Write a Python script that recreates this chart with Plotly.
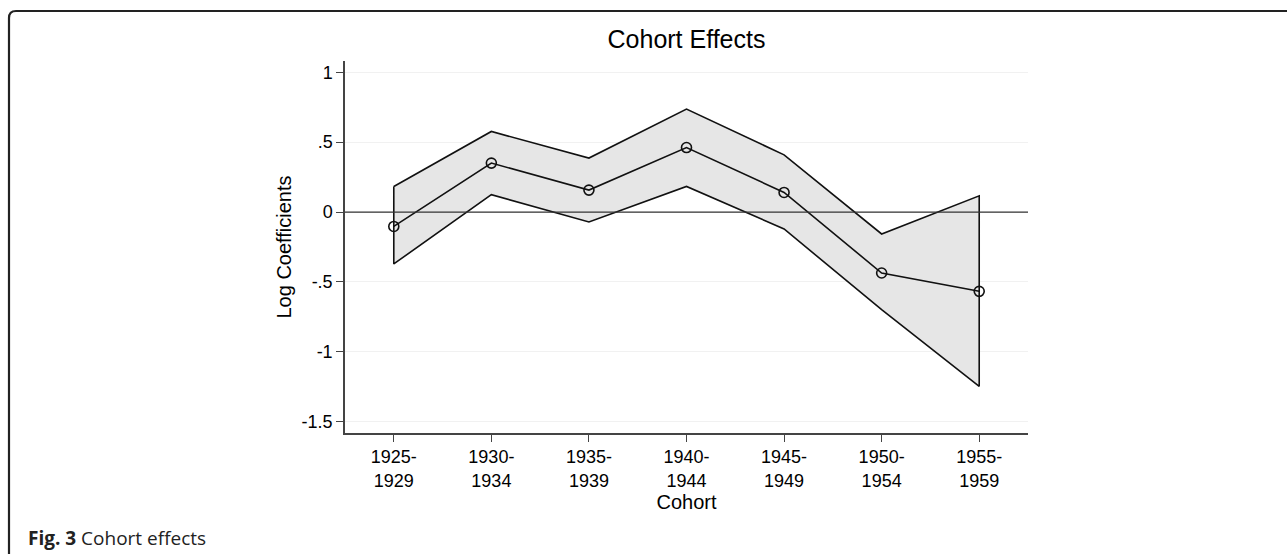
import plotly.graph_objects as go

# cohort groups and estimated log coefficients with CI bounds
cohorts = ["1925-<br>1929", "1930-<br>1934", "1935-<br>1939", "1940-<br>1944",
           "1945-<br>1949", "1950-<br>1954", "1955-<br>1959"]
coef = [-0.103, 0.350, 0.157, 0.461, 0.140, -0.436, -0.567]
upper = [0.183, 0.576, 0.386, 0.736, 0.409, -0.157, 0.116]
lower = [-0.371, 0.124, -0.071, 0.183, -0.121, -0.698, -1.246]
ytickvals = [1, 0.5, 0, -0.5, -1, -1.5]
yticktext = ["1", ".5", "0", "-.5", "-1", "-1.5"]

W, H = 1287, 554
L, R, T, B = 345, 1028, 61, 433   # plot area in pixels
FONT = "Liberation Sans, Arial, Helvetica, sans-serif"

def px(x):
    return (x - L) / (R - L)

def py(y):
    return (B - y) / (B - T)

idx = list(range(len(cohorts)))

fig = go.Figure()

# CI band as a closed polygon with an outline
bx = idx + idx[::-1] + [idx[0]]
by = upper + lower[::-1] + [upper[0]]
fig.add_trace(go.Scatter(x=bx, y=by, mode="lines", fill="toself",
                         fillcolor="#e6e6e6", line=dict(color="#111111", width=1.6),
                         hoverinfo="skip", showlegend=False))

fig.add_trace(go.Scatter(x=idx, y=coef, mode="lines+markers",
                         line=dict(color="#111111", width=1.6),
                         marker=dict(symbol="circle-open", size=10, color="#111111",
                                     line=dict(width=1.6)),
                         showlegend=False))

# zero reference line drawn above the band
fig.add_shape(type="line", xref="paper", x0=0, x1=1, yref="y", y0=0, y1=0,
              line=dict(color="#333333", width=1.2), layer="above")

# rounded frame around the whole figure
r = 7
path = (f"M {px(9)} {py(600)} L {px(9)} {py(11 + r)} "
        f"Q {px(9)} {py(11)} {px(9 + r)} {py(11)} L {px(1320)} {py(11)}")
fig.add_shape(type="path", xref="paper", yref="paper", path=path,
              line=dict(color="#222222", width=2.2))

fig.add_annotation(text="<b>Fig. 3</b> Cohort effects", xref="paper", yref="paper",
                   x=px(26), y=py(538), xanchor="left", yanchor="middle",
                   showarrow=False, font=dict(family="Open Sans, sans-serif", size=19, color="#222222"))

fig.update_xaxes(range=[-0.5, 6.5], tickmode="array", tickvals=idx, ticktext=cohorts,
                 showgrid=False, zeroline=False, showline=True, linecolor="#444444", linewidth=1.5,
                 ticks="outside", ticklen=7, tickcolor="#444444", tickwidth=1.3,
                 tickfont=dict(family=FONT, size=18, color="#000000"),
                 title=dict(text="Cohort", font=dict(family=FONT, size=20, color="#000000"), standoff=4),
                 automargin=False, fixedrange=True)
fig.update_yaxes(range=[-1.58, 1.08], tickmode="array", tickvals=ytickvals, ticktext=yticktext,
                 showgrid=True, gridcolor="#f1f1f1", gridwidth=1, zeroline=False,
                 showline=True, linecolor="#444444", linewidth=1.5,
                 ticks="outside", ticklen=7, tickcolor="#444444", tickwidth=1.3,
                 tickfont=dict(family=FONT, size=18, color="#000000"),
                 title=dict(text="Log Coefficients", font=dict(family=FONT, size=20, color="#000000"),
                            standoff=5),
                 automargin=False, fixedrange=True)

fig.update_layout(
    template="none",
    width=W, height=H,
    margin=dict(l=L, r=W - R, t=T, b=H - B, pad=0),
    paper_bgcolor="white", plot_bgcolor="white",
    title=dict(text="Cohort Effects", x=px(686.5), xref="paper", xanchor="center",
               y=1 - 39 / H, yref="container", yanchor="middle",
               font=dict(family=FONT, size=25, color="#000000")),
    showlegend=False,
)

# drop the default page margin so the figure sits at the window's corner
fig.write_html("out.html", config={"displayModeBar": False},
               post_script="document.body.style.margin='0';")
